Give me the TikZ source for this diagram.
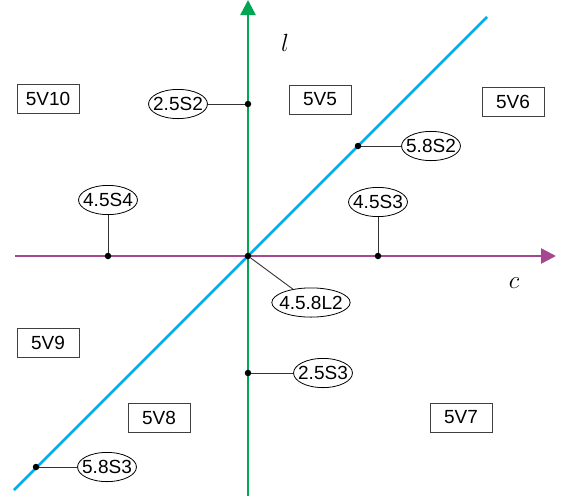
\documentclass[tikz,border=0pt]{standalone}
\usepackage{fontspec}
\setmainfont{Liberation Sans}
\usetikzlibrary{arrows.meta,shapes.geometric}
\definecolor{axmag}{RGB}{165,72,145}
\definecolor{axgreen}{RGB}{0,166,81}
\definecolor{axblue}{RGB}{0,174,239}
\tikzset{
  region/.style={draw=black!75,line width=0.9pt,minimum width=62pt,minimum height=29pt,inner sep=0pt,font=\fontsize{19}{21}\selectfont},
  tag/.style={draw,ellipse,line width=0.8pt,inner xsep=-4pt,inner ysep=3.6pt,font=\fontsize{19}{21}\selectfont},
  pnt/.style={circle,fill,inner sep=0pt,minimum size=6.5pt},
  lead/.style={black!80,line width=0.9pt},
  axis/.style={line width=2.6pt,-{Triangle[length=15pt,width=15pt]}},
}
\begin{document}
\begin{tikzpicture}[x=1pt,y=-1pt]
\useasboundingbox (0,0) rectangle (562,499);
% axes
\coordinate (c0) at (15,256); \coordinate (c1) at (556,256);
\coordinate (l0) at (248,496); \coordinate (l1) at (248,0);
\coordinate (d0) at (14,490); \coordinate (d1) at (487,17);
\draw[axblue,line width=2.6pt] (d0) -- (d1);
\draw[axmag,axis] (c0) -- (c1);
\draw[axgreen,axis] (l0) -- (l1);
\node[font=\fontsize{25}{28}\selectfont](lab-l) at (285,43){$l$};
\node[font=\fontsize{25}{28}\selectfont](lab-c) at (514,283){$c$};
% regions
\node[region](v10) at (48,98.5){5V10};
\node[region](v5) at (320,99.5){5V5};
\node[region](v6) at (513,101.5){5V6};
\node[region](v9) at (48,343){5V9};
\node[region](v8) at (159,417.5){5V8};
\node[region](v7) at (461,417.5){5V7};
% points and tags
\node[pnt](p0) at (248,256){};
\node[pnt](p1) at (248,104){};
\node[pnt](p2) at (358,146){};
\node[pnt](p3) at (108,256){};
\node[pnt](p4) at (378,256){};
\node[pnt](p5) at (248,373){};
\node[pnt](p6) at (36,467){};
\node[tag](t0) at (311,302.5){4.5.8L2};
\node[tag](t1) at (178,104){2.5S2};
\node[tag](t2) at (431,146){5.8S2};
\node[tag](t3) at (108,200){4.5S4};
\node[tag](t4) at (378,202){4.5S3};
\node[tag](t5) at (323,373){2.5S3};
\node[tag](t6) at (107,467){5.8S3};
\draw[lead] (p0) -- (t0);
\draw[lead] (p1) -- (t1);
\draw[lead] (p2) -- (t2);
\draw[lead] (p3) -- (t3);
\draw[lead] (p4) -- (t4);
\draw[lead] (p5) -- (t5);
\draw[lead] (p6) -- (t6);
\end{tikzpicture}
\end{document}
